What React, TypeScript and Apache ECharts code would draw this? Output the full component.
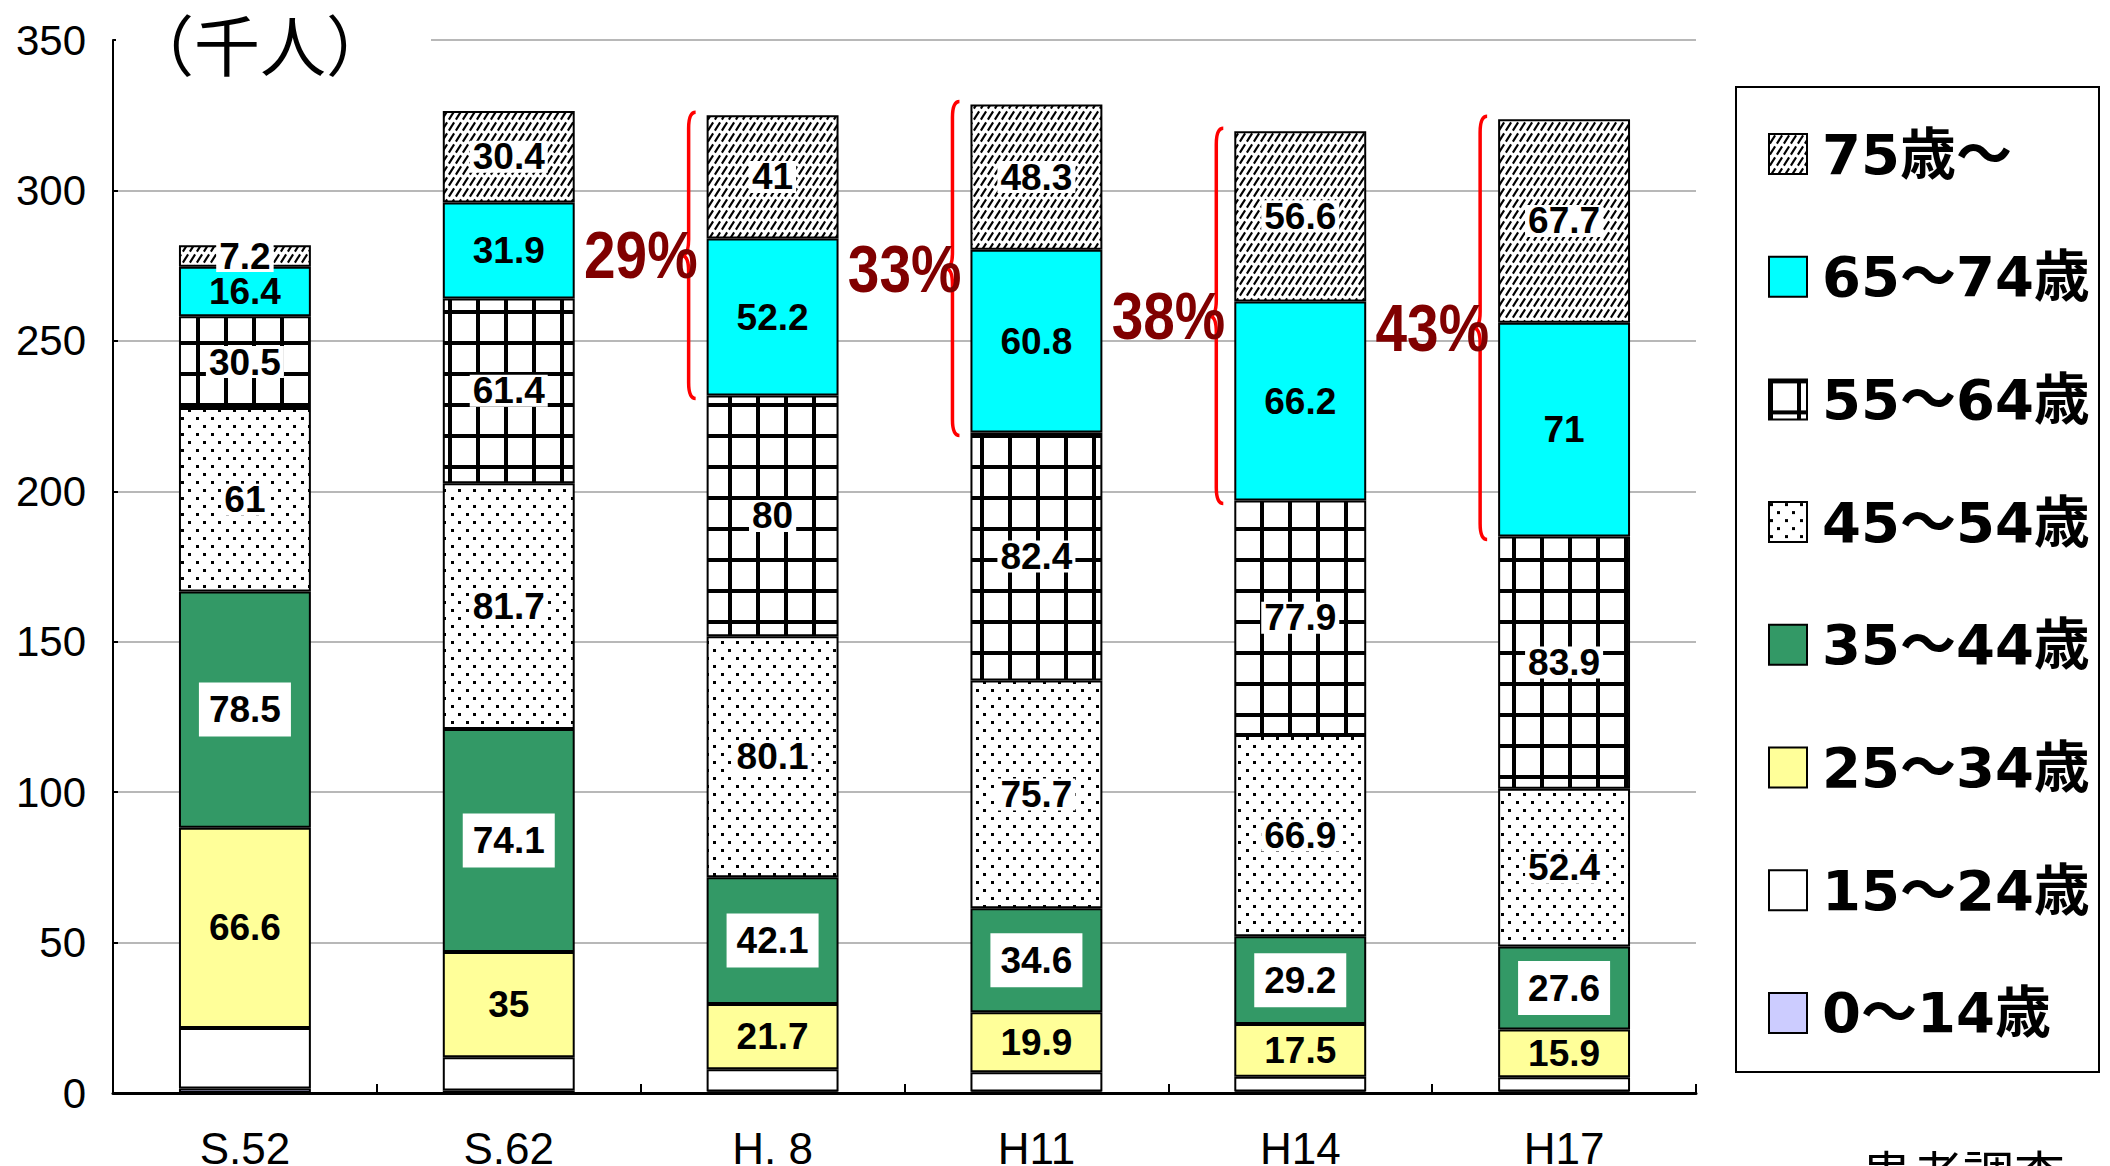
import React, { useEffect, useRef } from "react";
import * as echarts from "echarts";

const categories = ["S.52", "S.62", "H. 8", "H11", "H14", "H17"];
const seriesNames = ["0〜14歳", "15〜24歳", "25〜34歳", "35〜44歳", "45〜54歳", "55〜64歳", "65〜74歳", "75歳〜"];
const age0to14 = [1.5, 0.8, 0.5, 0.5, 0.5, 0.5];
const age15to24 = [20.1, 11.1, 7.4, 6.4, 4.9, 4.7];
const age25to34 = [66.6, 35, 21.7, 19.9, 17.5, 15.9];
const age35to44 = [78.5, 74.1, 42.1, 34.6, 29.2, 27.6];
const age45to54 = [61, 81.7, 80.1, 75.7, 66.9, 52.4];
const age55to64 = [30.5, 61.4, 80, 82.4, 77.9, 83.9];
const age65to74 = [16.4, 31.9, 52.2, 60.8, 66.2, 71];
const age75over = [7.2, 30.4, 41, 48.3, 56.6, 67.7];
const elderlyShare = ["", "", "29%", "33%", "38%", "43%"];
const yMin = 0;
const yMax = 350;
const yInterval = 50;
const unitLabel = "（千人）";
const sourceLabel = "患者調査";

const LABEL_FONT = "'Liberation Sans', Arial, sans-serif";

function makeTile(w: number, h: number, draw: (ctx: CanvasRenderingContext2D) => void) {
  const c = document.createElement("canvas");
  c.width = w;
  c.height = h;
  const ctx = c.getContext("2d")!;
  ctx.fillStyle = "#ffffff";
  ctx.fillRect(0, 0, w, h);
  ctx.fillStyle = "#000000";
  ctx.strokeStyle = "#000000";
  draw(ctx);
  return { image: c, repeat: "repeat", imageWidth: w, imageHeight: h } as any;
}

export default function App() {
  const ref = useRef<HTMLDivElement>(null);
  useEffect(() => {
    if (!ref.current) return;
    const chart = echarts.init(ref.current, null, { renderer: "svg" });

    const hatch = makeTile(7, 11, (ctx) => {
      ctx.lineWidth = 2.1;
      ctx.beginPath();
      ctx.moveTo(0.9, 9.6);
      ctx.lineTo(6.1, 1.4);
      ctx.stroke();
    });
    const grid = makeTile(28, 31, (ctx) => {
      ctx.fillRect(0, 0, 28, 4);
      ctx.fillRect(0, 0, 4, 31);
    });
    const dots = makeTile(15, 16, (ctx) => {
      ctx.fillRect(1, 1, 3, 3);
      ctx.fillRect(8, 9, 3, 3);
    });

    const values = [age0to14, age15to24, age25to34, age35to44, age45to54, age55to64, age65to74, age75over];
    const fills: any[] = ["#ccccff", "#ffffff", "#ffff99", "#339966", dots, grid, "#00ffff", hatch];
    const labelShown = [false, false, true, true, true, true, true, true];
    const whiteBg = [false, false, false, true, true, true, false, true];

    const barSeries = values.map((vals, si) => ({
      name: seriesNames[si],
      type: "bar",
      stack: "total",
      barWidth: "50%",
      data: vals,
      itemStyle: { color: fills[si], borderColor: "#000", borderWidth: 2 },
      label: {
        show: labelShown[si],
        position: "inside",
        color: "#000",
        fontFamily: LABEL_FONT,
        fontWeight: "bold",
        fontSize: 37,
        lineHeight: 32,
        backgroundColor: whiteBg[si] ? "#ffffff" : "transparent",
        padding: si === 3 ? [11, 10] : [0, 3],
      },
      emphasis: { disabled: true },
    }));

    const braceData = categories
      .map((_, i) => {
        const lo = age0to14[i] + age15to24[i] + age25to34[i] + age35to44[i] + age45to54[i] + age55to64[i];
        const hi = lo + age65to74[i] + age75over[i];
        return [i, lo, hi];
      })
      .filter((d) => elderlyShare[d[0]] !== "");

    const braceSeries = {
      type: "custom",
      name: "brace",
      coordinateSystem: "cartesian2d",
      encode: { x: 0, y: [1, 2] },
      z: 10,
      silent: true,
      data: braceData,
      renderItem: (params: any, api: any) => {
        const i = api.value(0);
        const pLo = api.coord([i, api.value(1)]);
        const pHi = api.coord([i, api.value(2)]);
        const band = api.size([1, 0])[0];
        const xR = pLo[0] - band * 0.25 - 11;
        const w = 14;
        const xS = xR - w / 2;
        const xL = xR - w;
        const yT = pHi[1] - 3;
        const yB = pLo[1] + 3;
        const yM = (yT + yB) / 2;
        const r = 16;
        const d = `M${xR},${yT} Q${xS},${yT} ${xS},${yT + r} L${xS},${yM - r} Q${xS},${yM} ${xL},${yM} Q${xS},${yM} ${xS},${yM + r} L${xS},${yB - r} Q${xS},${yB} ${xR},${yB}`;
        return {
          type: "group",
          children: [
            { type: "path", shape: { pathData: d }, style: { stroke: "#ff0000", fill: "none", lineWidth: 3.5 } },
            {
              type: "text",
              x: xR + 2,
              y: yM,
              scaleX: 0.86,
              style: {
                text: elderlyShare[i],
                x: 0,
                y: 0,
                align: "right",
                verticalAlign: "middle",
                fontSize: 66,
                fontWeight: "bold",
                fontFamily: LABEL_FONT,
                fill: "#800000",
              },
            },
          ],
        };
      },
    };

    chart.setOption({
      animation: false,
      backgroundColor: "#ffffff",
      grid: { left: 113, right: 414, top: 40, bottom: 73, containLabel: false, outerBoundsMode: "none" } as any,
      xAxis: {
        type: "category",
        data: categories,
        axisLine: { lineStyle: { color: "#000", width: 3 } },
        axisTick: { show: true, inside: true, length: 9, lineStyle: { color: "#000", width: 2 } },
        axisLabel: { fontSize: 44, color: "#000", fontFamily: "'Liberation Sans', Arial, sans-serif", margin: 33 },
        splitLine: { show: false },
      },
      yAxis: {
        type: "value",
        min: yMin,
        max: yMax,
        interval: yInterval,
        axisLine: { show: true, lineStyle: { color: "#000", width: 2 } },
        axisTick: { show: true, inside: true, length: 5, lineStyle: { color: "#000", width: 2 } },
        axisLabel: { fontSize: 42, color: "#000", fontFamily: "'Liberation Sans', Arial, sans-serif", margin: 27 },
        splitLine: { show: true, lineStyle: { color: "#a0a0a0", width: 1.5 } },
      },
      legend: {
        orient: "vertical",
        left: 1763,
        top: 121,
        height: 1000,
        itemWidth: 38,
        itemHeight: 40,
        itemGap: 66.7,
        icon: "rect",
        selectedMode: false,
        data: [...seriesNames].reverse(),
        itemStyle: { borderColor: "#000", borderWidth: 2 },
        textStyle: {
          fontSize: 56,
          fontWeight: "bold",
          fontFamily: "'DejaVu Sans', 'Noto Sans CJK JP', sans-serif",
          color: "#000",
          padding: [0, 0, 0, 10],
        },
      },
      graphic: [
        { type: "rect", z: 100, shape: { x: 116, y: 30, width: 315, height: 20 }, style: { fill: "#ffffff" } },
        {
          type: "text",
          z: 101,
          x: 128,
          y: 42,
          style: {
            text: unitLabel,
            fontSize: 66,
            fontFamily: "'Noto Sans CJK JP', sans-serif",
            fill: "#000",
            verticalAlign: "middle",
            align: "left",
          },
        },
        {
          type: "rect",
          z: 100,
          shape: { x: 1736, y: 87, width: 363, height: 985 },
          style: { fill: "none", stroke: "#000", lineWidth: 2 },
        },
        {
          type: "text",
          z: 101,
          x: 1861,
          y: 1146,
          style: {
            text: sourceLabel,
            fontSize: 51,
            fontFamily: "'Noto Sans CJK JP', sans-serif",
            fill: "#000",
            verticalAlign: "top",
            align: "left",
          },
        },
      ],
      series: [...barSeries, braceSeries],
    });
    return () => chart.dispose();
  }, []);
  return (
    <div
      ref={ref}
      style={{ position: "fixed", left: 0, top: 0, width: 2110, height: 1166, background: "#fff" }}
    />
  );
}
